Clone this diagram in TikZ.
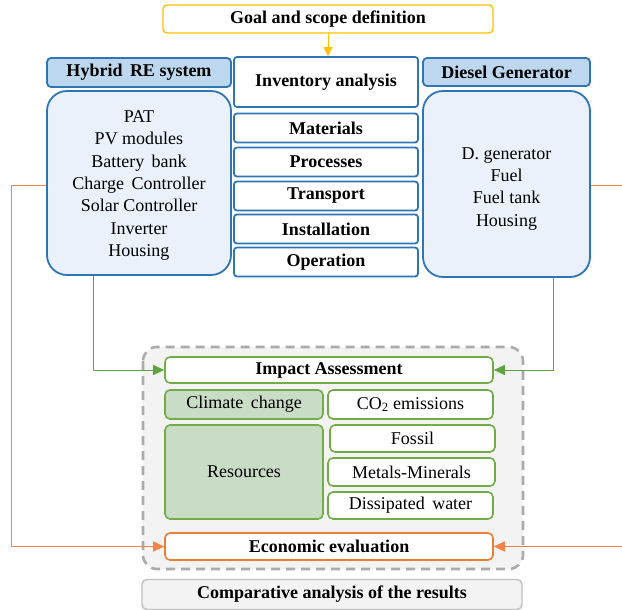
\documentclass[tikz,border=0pt]{standalone}
\usepackage{fontspec}
\setmainfont{Liberation Serif}[BoldFont={Liberation Serif Bold}]
\usepackage{tikz}
\usetikzlibrary{arrows.meta}
\definecolor{lcablue}{HTML}{2E75B6}
\definecolor{headfill}{HTML}{BDD7EE}
\definecolor{listfill}{HTML}{EAF1FA}
\definecolor{goalyellow}{HTML}{FFC000}
\definecolor{impgreen}{HTML}{70AD47}
\definecolor{arrgreen}{HTML}{5EA340}
\definecolor{resgreen}{HTML}{C9DCC5}
\definecolor{econorange}{HTML}{ED7D31}
\definecolor{linkorange}{HTML}{EF8446}
\definecolor{bggray}{HTML}{F3F3F3}
\definecolor{dashgray}{HTML}{ABABAB}
\definecolor{cmpgray}{HTML}{BFBFBF}

\tikzset{
  lbl/.style={rectangle, inner sep=0pt, align=center,
    font=\fontsize{18}{22.3}\selectfont},
  blbl/.style={lbl, font=\fontsize{18}{22.3}\selectfont\bfseries},
  bluehead/.style={blbl, draw=lcablue, fill=headfill, line width=1.8pt, rounded corners=4pt},
  bluelist/.style={lbl, draw=lcablue, fill=listfill, line width=1.8pt, rounded corners=20pt},
  stage/.style={blbl, draw=lcablue, fill=white, line width=1.8pt, rounded corners=3pt,
    minimum width=184, minimum height=29},
  impbox/.style={lbl, draw=impgreen, fill=white, line width=1.6pt, rounded corners=5pt},
  impfill/.style={impbox, fill=resgreen},
  link/.style={line width=1pt, -{Triangle[length=11pt, width=10pt]}}
}

\begin{document}
\begin{tikzpicture}[x=1pt, y=-1pt]
    \useasboundingbox (0,0) rectangle (622,610);
    % --- Goal and inventory ---
    \node[blbl, draw=goalyellow, line width=1.4pt, rounded corners=4pt,
        minimum width=330, minimum height=28] (goal) at (328,19)
        {Goal and scope definition};
    \node[stage, minimum height=50] (inv) at (326,82) {Inventory analysis};
    \node[stage] (mat)   at (326,128) {Materials};
    \node[stage] (proc)  at (326,162) {Processes};
    \node[stage] (trans) at (326,196) {Transport};
    \node[stage] (inst)  at (326,229) {Installation};
    \node[stage] (oper)  at (326,262) {Operation};
    \draw[line width=1pt, draw=goalyellow, -{Triangle[length=9pt, width=9pt]}]
        (goal.south) -- (goal.south |- inv.north);

    % --- The two systems ---
    \node[bluehead, minimum width=184, minimum height=29] (hyb) at (139,72.5)
        {Hybrid\, RE system};
    \node[bluelist, minimum width=184, minimum height=184] (hyblist) at (139,183)
        {\rule{0pt}{17pt}PAT\\PV modules\\Battery\, bank\\Charge\, Controller\\Solar Controller\\Inverter\\Housing};
    \node[bluehead, minimum width=167, minimum height=28] (dsl) at (506.5,72)
        {Diesel Generator};
    \node[bluelist, minimum width=167, minimum height=186] (dsllist) at (506.5,184)
        {\rule{0pt}{21pt}D. generator\\Fuel\\Fuel tank\\Housing};

    % --- Impact assessment ---
    \draw[dashgray, fill=bggray, line width=2.6pt, dash pattern=on 9pt off 6pt,
        rounded corners=14pt] (143,347) rectangle (523,569);
    \node[impbox, font=\fontsize{18}{22.3}\selectfont\bfseries,
        minimum width=328, minimum height=26] (imp) at (329,370) {Impact Assessment};
    \node[impfill, minimum width=158, minimum height=29] (clim) at (244,404.5)
        {Climate\, change};
    \node[impbox, minimum width=165, minimum height=29] (co2) at (410.5,404.5)
        {CO\textsubscript{2} emissions};
    \node[impfill, minimum width=158, minimum height=94] (res) at (244,472) {Resources};
    \node[impbox, minimum width=165, minimum height=27] (fos) at (412.5,438.5) {Fossil};
    \node[impbox, minimum width=167, minimum height=28] (met) at (411.5,472)
        {Metals-Minerals};
    \node[impbox, minimum width=165, minimum height=27] (dis) at (410.5,505.5)
        {Dissipated\, water};
    \node[blbl, draw=econorange, fill=white, line width=1.6pt, rounded corners=5pt,
        minimum width=328, minimum height=27] (econ) at (329,546.5) {Economic evaluation};
    \node[blbl, draw=cmpgray, fill=bggray, line width=1.4pt, rounded corners=5pt,
        minimum width=380, minimum height=30] (cmp) at (332,594.5)
        {Comparative analysis of the results};

    % --- Links ---
    \draw[link, arrgreen] ([xshift=-46pt]hyblist.south) |- (imp.west);
    \draw[link, arrgreen] ([xshift=46.5pt]dsllist.south) |- (imp.east);
    \draw[link, linkorange] ([yshift=-2pt]hyblist.west) -- ++(-35,0) |- (econ.west);
    \draw[link, linkorange] ([yshift=-1pt]dsllist.east) -- ++(45,0) |- (econ.east);
\end{tikzpicture}
\end{document}
